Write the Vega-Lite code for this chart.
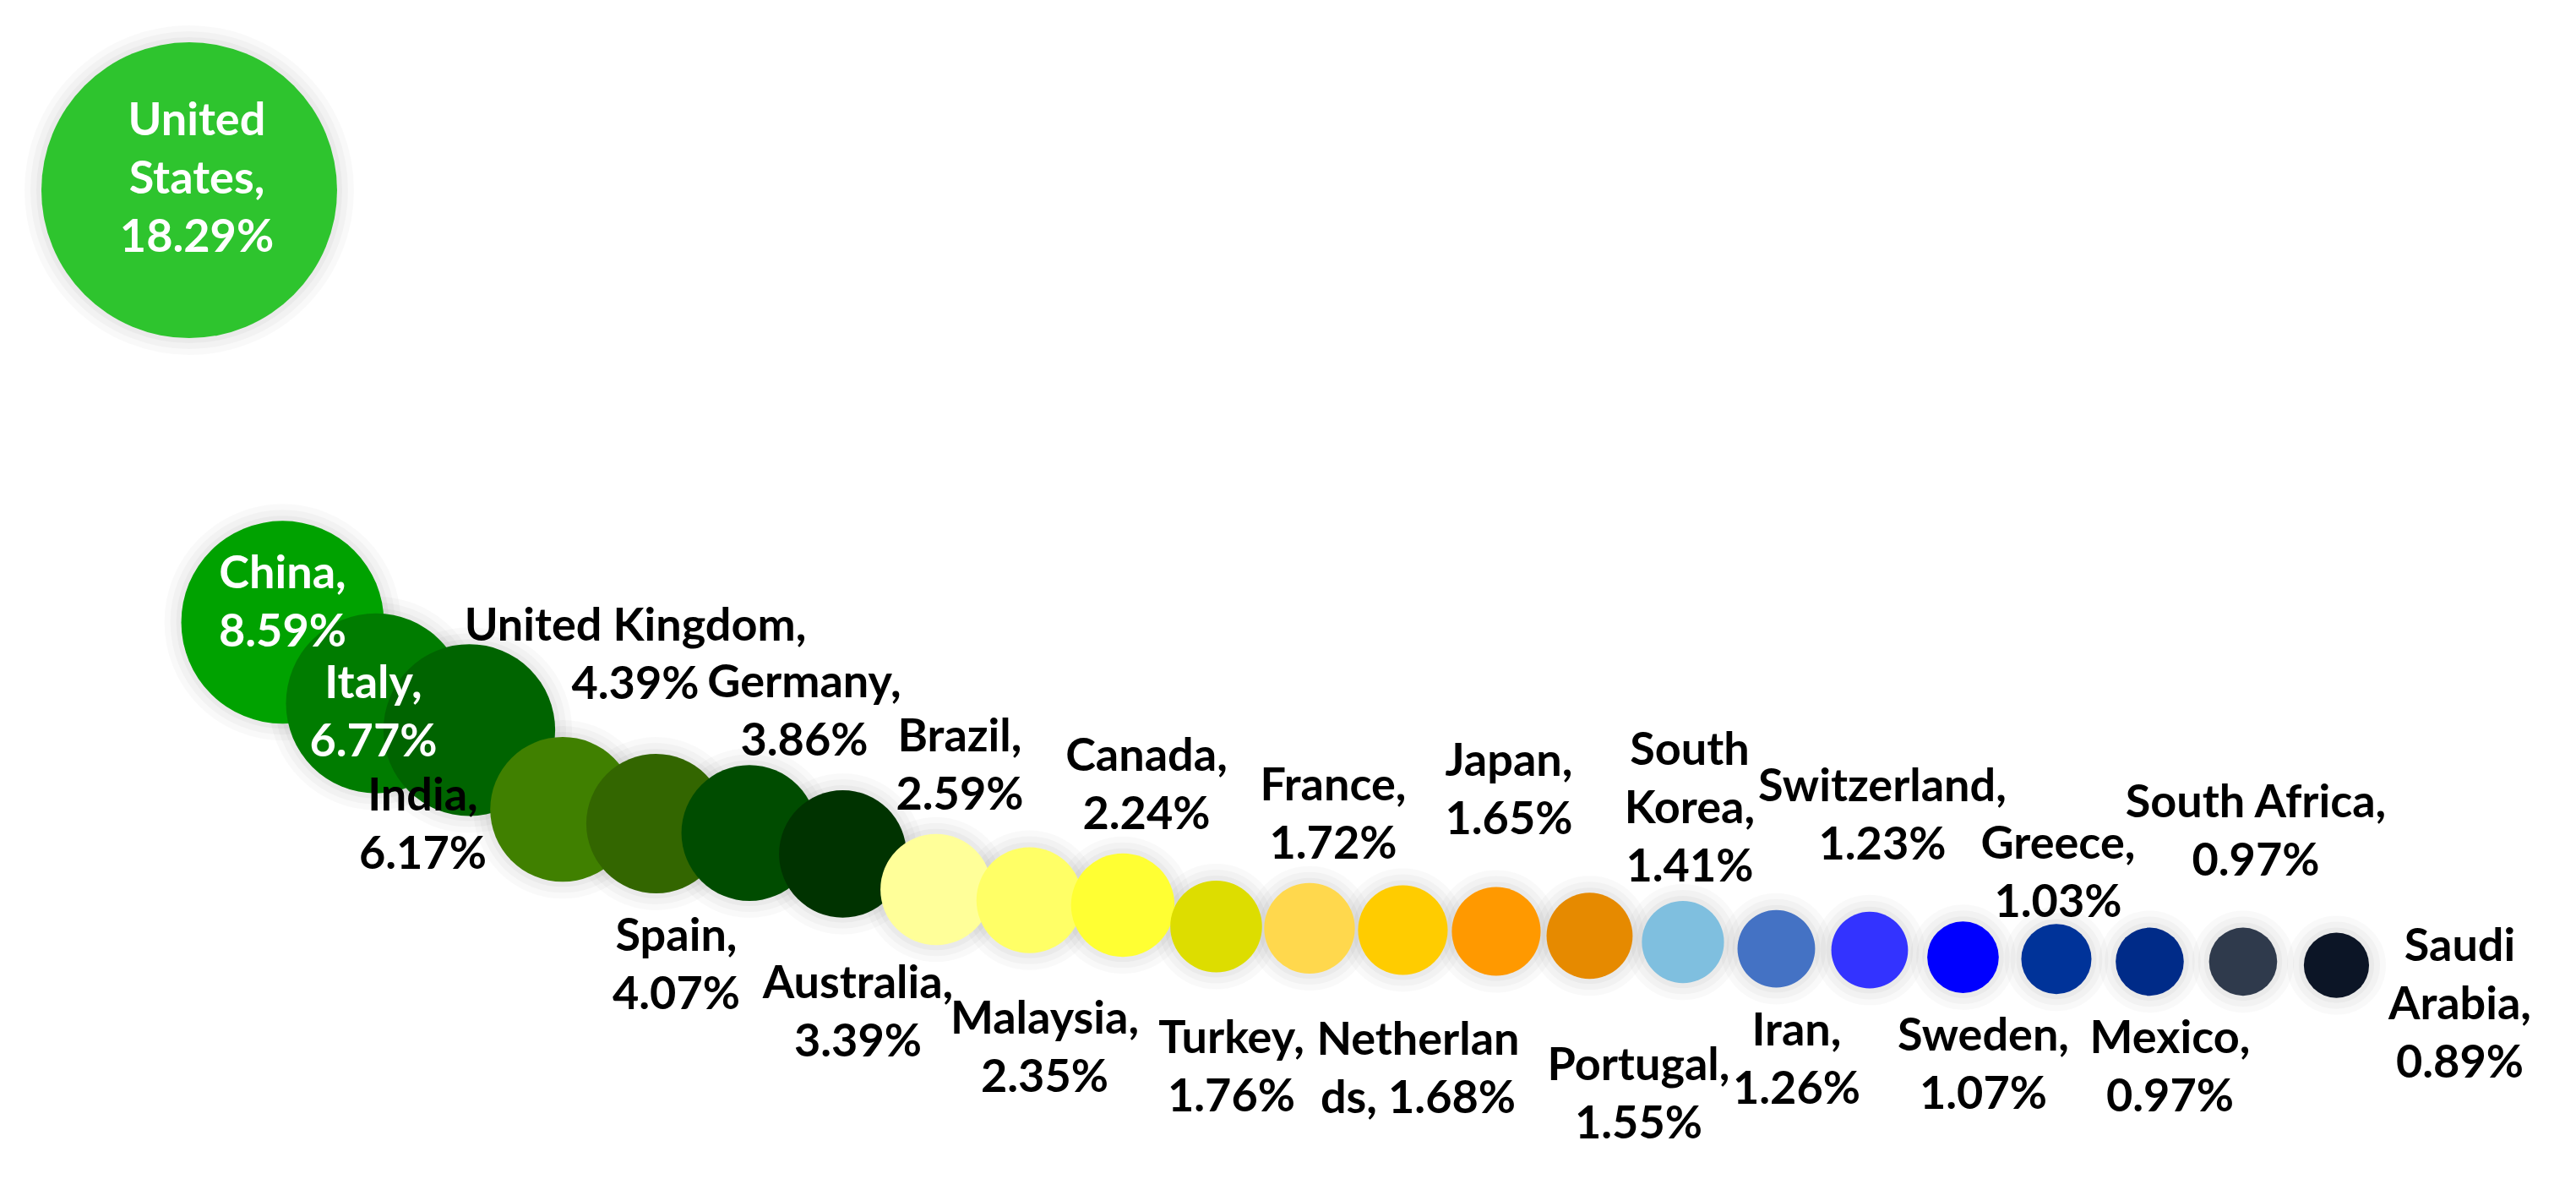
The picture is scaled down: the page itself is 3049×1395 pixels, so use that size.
{
  "$schema": "https://vega.github.io/schema/vega-lite/v6.json",
  "width": 3049,
  "height": 1395,
  "autosize": {"type": "none"},
  "padding": 0,
  "background": "#ffffff",
  "config": {
    "view": {"stroke": null},
    "text": {"font": "Lato", "fontSize": 54, "fontWeight": "bold", "lineHeight": 69, "lineBreak": "\n", "align": "center", "baseline": "middle", "color": "#000000"}
  },
  "data": {
    "values": [
      {"index": 1, "country": "United States", "share": 18.29, "label": "United\nStates,\n18.29%"},
      {"index": 2, "country": "China", "share": 8.59, "label": "China,\n8.59%"},
      {"index": 3, "country": "Italy", "share": 6.77, "label": "Italy,\n6.77%"},
      {"index": 4, "country": "India", "share": 6.17, "label": "India,\n6.17%"},
      {"index": 5, "country": "United Kingdom", "share": 4.39, "label": "United Kingdom,\n4.39%"},
      {"index": 6, "country": "Spain", "share": 4.07, "label": "Spain,\n4.07%"},
      {"index": 7, "country": "Germany", "share": 3.86, "label": "Germany,\n3.86%"},
      {"index": 8, "country": "Australia", "share": 3.39, "label": "Australia,\n3.39%"},
      {"index": 9, "country": "Brazil", "share": 2.59, "label": "Brazil,\n2.59%"},
      {"index": 10, "country": "Malaysia", "share": 2.35, "label": "Malaysia,\n2.35%"},
      {"index": 11, "country": "Canada", "share": 2.24, "label": "Canada,\n2.24%"},
      {"index": 12, "country": "Turkey", "share": 1.76, "label": "Turkey,\n1.76%"},
      {"index": 13, "country": "France", "share": 1.72, "label": "France,\n1.72%"},
      {"index": 14, "country": "Netherlands", "share": 1.68, "label": "Netherlan\nds, 1.68%"},
      {"index": 15, "country": "Japan", "share": 1.65, "label": "Japan,\n1.65%"},
      {"index": 16, "country": "Portugal", "share": 1.55, "label": "Portugal,\n1.55%"},
      {"index": 17, "country": "South Korea", "share": 1.41, "label": "South\nKorea,\n1.41%"},
      {"index": 18, "country": "Iran", "share": 1.26, "label": "Iran,\n1.26%"},
      {"index": 19, "country": "Switzerland", "share": 1.23, "label": "Switzerland,\n1.23%"},
      {"index": 20, "country": "Sweden", "share": 1.07, "label": "Sweden,\n1.07%"},
      {"index": 21, "country": "Greece", "share": 1.03, "label": "Greece,\n1.03%"},
      {"index": 22, "country": "Mexico", "share": 0.97, "label": "Mexico,\n0.97%"},
      {"index": 23, "country": "South Africa", "share": 0.97, "label": "South Africa,\n0.97%"},
      {"index": 24, "country": "Saudi Arabia", "share": 0.89, "label": "Saudi\nArabia,\n0.89%"}
    ]
  },
  "encoding": {
    "x": {"field": "index", "type": "quantitative", "scale": {"domain": [-1.027, 26.566], "nice": false, "zero": false}, "axis": null},
    "y": {"field": "share", "type": "quantitative", "scale": {"domain": [-3.909, 22.56], "nice": false, "zero": false}, "axis": null}
  },
  "layer": [
    {
      "mark": {"type": "circle", "fillOpacity": 0, "stroke": "#000000", "strokeOpacity": 0.022, "strokeWidth": 40},
      "encoding": {
        "size": {"field": "share", "type": "quantitative", "scale": {"type": "linear", "domain": [0, 18.29], "range": [0, 122500]}, "legend": null}
      }
    },
    {
      "mark": {"type": "circle", "fillOpacity": 0, "stroke": "#000000", "strokeOpacity": 0.028, "strokeWidth": 26},
      "encoding": {
        "size": {"field": "share", "type": "quantitative", "scale": {"type": "linear", "domain": [0, 18.29], "range": [0, 122500]}, "legend": null}
      }
    },
    {
      "mark": {"type": "circle", "fillOpacity": 0, "stroke": "#000000", "strokeOpacity": 0.032, "strokeWidth": 12},
      "encoding": {
        "size": {"field": "share", "type": "quantitative", "scale": {"type": "linear", "domain": [0, 18.29], "range": [0, 122500]}, "legend": null}
      }
    },
    {
      "mark": {"type": "circle", "opacity": 1},
      "encoding": {
        "size": {"field": "share", "type": "quantitative", "scale": {"type": "linear", "domain": [0, 18.29], "range": [0, 122500]}, "legend": null},
        "color": {
          "field": "country", "type": "nominal", "legend": null,
          "scale": {
            "domain": ["United States", "China", "Italy", "India", "United Kingdom", "Spain", "Germany", "Australia", "Brazil", "Malaysia", "Canada", "Turkey", "France", "Netherlands", "Japan", "Portugal", "South Korea", "Iran", "Switzerland", "Sweden", "Greece", "Mexico", "South Africa", "Saudi Arabia"],
            "range": ["#2EC42E", "#00A200", "#007C00", "#006400", "#408000", "#336600", "#004C00", "#003300", "#FFFF99", "#FFFF66", "#FFFF33", "#DDDD00", "#FFD84D", "#FFCC00", "#FF9900", "#E68A00", "#7FBFDF", "#4472C4", "#3333FF", "#0000FF", "#003399", "#002B88", "#2F3A4C", "#0C1526"]
          }
        }
      }
    },
    {
      "transform": [{"filter": {"field": "country", "oneOf": ["United States"]}}],
      "mark": {"type": "text", "color": "#ffffff", "dx": 9, "dy": -81},
      "encoding": {"text": {"field": "label"}}
    },
    {
      "transform": [{"filter": {"field": "country", "oneOf": ["China"]}}],
      "mark": {"type": "text", "color": "#ffffff", "dx": 0, "dy": -56},
      "encoding": {"text": {"field": "label"}}
    },
    {
      "transform": [{"filter": {"field": "country", "oneOf": ["Italy"]}}],
      "mark": {"type": "text", "color": "#ffffff", "dx": -3, "dy": -22},
      "encoding": {"text": {"field": "label"}}
    },
    {
      "transform": [{"filter": {"field": "country", "oneOf": ["United Kingdom"]}}],
      "mark": {"type": "text", "dx": 86, "dy": {"expr": "-sqrt(datum.share/18.29)*175 - 130"}},
      "encoding": {"text": {"field": "label"}}
    },
    {
      "transform": [{"filter": {"field": "country", "oneOf": ["Germany"]}}],
      "mark": {"type": "text", "dx": 65, "dy": {"expr": "-sqrt(datum.share/18.29)*175 - 96"}},
      "encoding": {"text": {"field": "label"}}
    },
    {
      "transform": [{"filter": {"field": "country", "oneOf": ["Brazil", "Canada", "France"]}}],
      "mark": {"type": "text", "dx": 28, "dy": {"expr": "-sqrt(datum.share/18.29)*175 - 114"}},
      "encoding": {"text": {"field": "label"}}
    },
    {
      "transform": [{"filter": {"field": "country", "oneOf": ["Japan", "Switzerland", "South Africa"]}}],
      "mark": {"type": "text", "dx": 15, "dy": {"expr": "-sqrt(datum.share/18.29)*175 - 147"}},
      "encoding": {"text": {"field": "label"}}
    },
    {
      "transform": [{"filter": {"field": "country", "oneOf": ["South Korea"]}}],
      "mark": {"type": "text", "dx": 8, "dy": {"expr": "-sqrt(datum.share/18.29)*175 - 177"}},
      "encoding": {"text": {"field": "label"}}
    },
    {
      "transform": [{"filter": {"field": "country", "oneOf": ["Greece"]}}],
      "mark": {"type": "text", "dx": 2, "dy": {"expr": "-sqrt(datum.share/18.29)*175 - 93"}},
      "encoding": {"text": {"field": "label"}}
    },
    {
      "transform": [{"filter": {"field": "country", "oneOf": ["Spain", "Iran", "Sweden", "Mexico"]}}],
      "mark": {"type": "text", "dx": 24, "dy": {"expr": "sqrt(datum.share/18.29)*175 + 52"}},
      "encoding": {"text": {"field": "label"}}
    },
    {
      "transform": [{"filter": {"field": "country", "oneOf": ["Australia", "Malaysia", "Turkey", "Netherlands"]}}],
      "mark": {"type": "text", "dx": 18, "dy": {"expr": "sqrt(datum.share/18.29)*175 + 79"}},
      "encoding": {"text": {"field": "label"}}
    },
    {
      "transform": [{"filter": {"field": "country", "oneOf": ["Portugal"]}}],
      "mark": {"type": "text", "dx": 58, "dy": {"expr": "sqrt(datum.share/18.29)*175 + 104"}},
      "encoding": {"text": {"field": "label"}}
    },
    {
      "transform": [{"filter": {"field": "country", "oneOf": ["India"]}}],
      "mark": {"type": "text", "dx": -55, "dy": 79},
      "encoding": {"text": {"field": "label"}}
    },
    {
      "transform": [{"filter": {"field": "country", "oneOf": ["Saudi Arabia"]}}],
      "mark": {"type": "text", "dx": 146, "dy": -21},
      "encoding": {"text": {"field": "label"}}
    }
  ]
}
